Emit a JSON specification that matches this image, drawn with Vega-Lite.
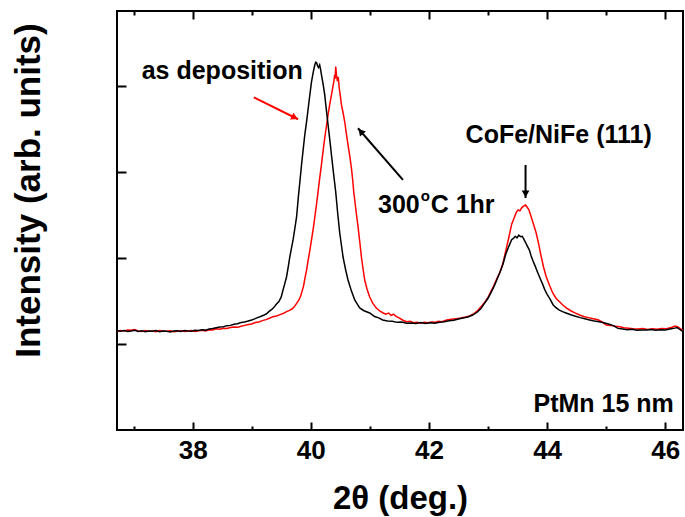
{
"$schema": "https://vega.github.io/schema/vega-lite/v6.json",
"width": 566, "height": 419,
"autosize": {"type": "none"},
"padding": {"left": 117, "top": 11, "right": 2, "bottom": 87},
"background": "white",
"config": {
  "view": {"stroke": "black", "strokeWidth": 2},
  "axis": {"grid": false, "domainColor": "black", "domainWidth": 2, "tickColor": "black", "tickWidth": 2, "ticks": true, "zindex": 1,
           "labelFont": "Liberation Sans", "labelFontWeight": "bold", "labelFontSize": 26, "labelColor": "black",
           "titleFont": "Liberation Sans", "titleFontWeight": "bold", "titleColor": "black"}
},
"datasets": {
  "red": [
{"x":36.72,"y":1.148},{"x":36.78,"y":1.156},{"x":36.84,"y":1.150},{"x":36.90,"y":1.162},{"x":36.96,"y":1.158},{"x":37.02,"y":1.168},{"x":37.08,"y":1.150},{"x":37.14,"y":1.145},{"x":37.20,"y":1.155},{"x":37.26,"y":1.148},{"x":37.32,"y":1.150},{"x":37.38,"y":1.142},{"x":37.44,"y":1.155},{"x":37.50,"y":1.150},{"x":37.56,"y":1.146},{"x":37.62,"y":1.152},{"x":37.68,"y":1.140},{"x":37.74,"y":1.148},{"x":37.80,"y":1.152},{"x":37.86,"y":1.145},{"x":37.92,"y":1.150},{"x":37.98,"y":1.155},{"x":38.04,"y":1.145},{"x":38.10,"y":1.152},{"x":38.16,"y":1.158},{"x":38.22,"y":1.150},{"x":38.28,"y":1.165},{"x":38.34,"y":1.162},{"x":38.40,"y":1.175},{"x":38.46,"y":1.170},{"x":38.52,"y":1.182},{"x":38.58,"y":1.178},{"x":38.64,"y":1.190},{"x":38.70,"y":1.195},{"x":38.76,"y":1.192},{"x":38.82,"y":1.205},{"x":38.88,"y":1.215},{"x":38.94,"y":1.225},{"x":39.00,"y":1.232},{"x":39.06,"y":1.248},{"x":39.12,"y":1.255},{"x":39.18,"y":1.270},{"x":39.24,"y":1.282},{"x":39.30,"y":1.298},{"x":39.36,"y":1.316},{"x":39.42,"y":1.325},{"x":39.48,"y":1.340},{"x":39.54,"y":1.355},{"x":39.59,"y":1.374},{"x":39.64,"y":1.39},{"x":39.68,"y":1.405},{"x":39.72,"y":1.43},{"x":39.76,"y":1.47},{"x":39.80,"y":1.51},{"x":39.83,"y":1.56},{"x":39.86,"y":1.63},{"x":39.88,"y":1.68},{"x":39.90,"y":1.76},{"x":39.93,"y":1.86},{"x":39.95,"y":1.95},{"x":39.98,"y":2.07},{"x":40.01,"y":2.20},{"x":40.04,"y":2.33},{"x":40.07,"y":2.48},{"x":40.095,"y":2.61},{"x":40.12,"y":2.75},{"x":40.15,"y":2.92},{"x":40.18,"y":3.078},{"x":40.21,"y":3.25},{"x":40.236,"y":3.391},{"x":40.265,"y":3.53},{"x":40.292,"y":3.659},{"x":40.32,"y":3.78},{"x":40.35,"y":3.891},{"x":40.37,"y":3.97},{"x":40.389,"y":4.042},{"x":40.40,"y":4.10},{"x":40.412,"y":4.08},{"x":40.422,"y":4.22},{"x":40.435,"y":4.12},{"x":40.45,"y":4.05},{"x":40.465,"y":4.10},{"x":40.48,"y":3.98},{"x":40.50,"y":3.88},{"x":40.519,"y":3.775},{"x":40.545,"y":3.69},{"x":40.575,"y":3.577},{"x":40.60,"y":3.45},{"x":40.63,"y":3.31},{"x":40.66,"y":3.18},{"x":40.688,"y":3.043},{"x":40.71,"y":2.90},{"x":40.727,"y":2.764},{"x":40.744,"y":2.671},{"x":40.77,"y":2.52},{"x":40.80,"y":2.358},{"x":40.83,"y":2.18},{"x":40.857,"y":2.009},{"x":40.885,"y":1.87},{"x":40.913,"y":1.742},{"x":40.95,"y":1.64},{"x":40.997,"y":1.545},{"x":41.05,"y":1.47},{"x":41.11,"y":1.417},{"x":41.16,"y":1.385},{"x":41.217,"y":1.362},{"x":41.27,"y":1.345},{"x":41.32,"y":1.358},{"x":41.36,"y":1.330},{"x":41.40,"y":1.345},{"x":41.44,"y":1.322},{"x":41.50,"y":1.300},{"x":41.56,"y":1.275},{"x":41.62,"y":1.258},{"x":41.68,"y":1.262},{"x":41.74,"y":1.245},{"x":41.80,"y":1.250},{"x":41.86,"y":1.240},{"x":41.92,"y":1.250},{"x":41.98,"y":1.245},{"x":42.04,"y":1.255},{"x":42.10,"y":1.250},{"x":42.16,"y":1.262},{"x":42.22,"y":1.258},{"x":42.30,"y":1.278},{"x":42.38,"y":1.285},{"x":42.46,"y":1.292},{"x":42.54,"y":1.300},{"x":42.62,"y":1.312},{"x":42.69,"y":1.324},{"x":42.76,"y":1.352},{"x":42.82,"y":1.385},{"x":42.88,"y":1.43},{"x":42.94,"y":1.48},{"x":43.00,"y":1.54},{"x":43.05,"y":1.61},{"x":43.10,"y":1.68},{"x":43.15,"y":1.76},{"x":43.20,"y":1.83},{"x":43.25,"y":1.93},{"x":43.30,"y":2.08},{"x":43.35,"y":2.23},{"x":43.40,"y":2.39},{"x":43.44,"y":2.46},{"x":43.48,"y":2.53},{"x":43.51,"y":2.555},{"x":43.54,"y":2.545},{"x":43.57,"y":2.58},{"x":43.60,"y":2.60},{"x":43.637,"y":2.613},{"x":43.66,"y":2.59},{"x":43.69,"y":2.56},{"x":43.73,"y":2.477},{"x":43.77,"y":2.39},{"x":43.815,"y":2.288},{"x":43.86,"y":2.15},{"x":43.90,"y":2.013},{"x":43.94,"y":1.89},{"x":43.985,"y":1.78},{"x":44.04,"y":1.68},{"x":44.096,"y":1.591},{"x":44.15,"y":1.53},{"x":44.21,"y":1.49},{"x":44.265,"y":1.452},{"x":44.33,"y":1.415},{"x":44.40,"y":1.385},{"x":44.47,"y":1.36},{"x":44.55,"y":1.336},{"x":44.62,"y":1.318},{"x":44.70,"y":1.305},{"x":44.78,"y":1.292},{"x":44.86,"y":1.280},{"x":44.93,"y":1.255},{"x":45.00,"y":1.22},{"x":45.08,"y":1.215},{"x":45.16,"y":1.205},{"x":45.23,"y":1.200},{"x":45.30,"y":1.188},{"x":45.38,"y":1.182},{"x":45.46,"y":1.176},{"x":45.54,"y":1.172},{"x":45.62,"y":1.178},{"x":45.70,"y":1.168},{"x":45.78,"y":1.175},{"x":45.86,"y":1.170},{"x":45.94,"y":1.178},{"x":46.02,"y":1.175},{"x":46.10,"y":1.190},{"x":46.17,"y":1.208},{"x":46.22,"y":1.195},{"x":46.26,"y":1.175},{"x":46.30,"y":1.160}
  ],
  "black": [
{"x":36.72,"y":1.152},{"x":36.78,"y":1.146},{"x":36.84,"y":1.155},{"x":36.90,"y":1.143},{"x":36.96,"y":1.150},{"x":37.02,"y":1.158},{"x":37.08,"y":1.145},{"x":37.14,"y":1.152},{"x":37.20,"y":1.140},{"x":37.26,"y":1.150},{"x":37.32,"y":1.146},{"x":37.38,"y":1.155},{"x":37.44,"y":1.142},{"x":37.50,"y":1.150},{"x":37.56,"y":1.147},{"x":37.62,"y":1.138},{"x":37.68,"y":1.150},{"x":37.74,"y":1.153},{"x":37.80,"y":1.145},{"x":37.86,"y":1.156},{"x":37.92,"y":1.150},{"x":37.98,"y":1.148},{"x":38.04,"y":1.158},{"x":38.10,"y":1.155},{"x":38.16,"y":1.165},{"x":38.22,"y":1.160},{"x":38.28,"y":1.172},{"x":38.34,"y":1.178},{"x":38.40,"y":1.188},{"x":38.46,"y":1.195},{"x":38.52,"y":1.200},{"x":38.58,"y":1.212},{"x":38.64,"y":1.215},{"x":38.70,"y":1.228},{"x":38.76,"y":1.235},{"x":38.82,"y":1.248},{"x":38.88,"y":1.255},{"x":38.94,"y":1.265},{"x":39.00,"y":1.278},{"x":39.05,"y":1.290},{"x":39.10,"y":1.305},{"x":39.15,"y":1.318},{"x":39.20,"y":1.332},{"x":39.25,"y":1.350},{"x":39.30,"y":1.38},{"x":39.34,"y":1.40},{"x":39.38,"y":1.428},{"x":39.42,"y":1.462},{"x":39.46,"y":1.492},{"x":39.50,"y":1.545},{"x":39.53,"y":1.626},{"x":39.56,"y":1.70},{"x":39.59,"y":1.78},{"x":39.62,"y":1.90},{"x":39.645,"y":2.01},{"x":39.67,"y":2.10},{"x":39.70,"y":2.207},{"x":39.73,"y":2.34},{"x":39.76,"y":2.477},{"x":39.79,"y":2.71},{"x":39.815,"y":2.88},{"x":39.843,"y":3.078},{"x":39.87,"y":3.25},{"x":39.898,"y":3.426},{"x":39.925,"y":3.56},{"x":39.949,"y":3.693},{"x":39.98,"y":3.87},{"x":40.012,"y":4.042},{"x":40.04,"y":4.15},{"x":40.067,"y":4.239},{"x":40.085,"y":4.27},{"x":40.10,"y":4.262},{"x":40.115,"y":4.23},{"x":40.13,"y":4.21},{"x":40.15,"y":4.24},{"x":40.165,"y":4.19},{"x":40.181,"y":4.123},{"x":40.21,"y":4.01},{"x":40.236,"y":3.891},{"x":40.26,"y":3.74},{"x":40.287,"y":3.577},{"x":40.32,"y":3.38},{"x":40.35,"y":3.194},{"x":40.385,"y":2.98},{"x":40.422,"y":2.764},{"x":40.455,"y":2.52},{"x":40.49,"y":2.288},{"x":40.52,"y":2.14},{"x":40.546,"y":2.009},{"x":40.59,"y":1.86},{"x":40.63,"y":1.742},{"x":40.69,"y":1.61},{"x":40.744,"y":1.51},{"x":40.79,"y":1.46},{"x":40.828,"y":1.417},{"x":40.90,"y":1.385},{"x":40.997,"y":1.359},{"x":41.08,"y":1.318},{"x":41.15,"y":1.302},{"x":41.217,"y":1.278},{"x":41.30,"y":1.265},{"x":41.38,"y":1.262},{"x":41.46,"y":1.250},{"x":41.54,"y":1.255},{"x":41.62,"y":1.240},{"x":41.70,"y":1.243},{"x":41.78,"y":1.236},{"x":41.86,"y":1.248},{"x":41.94,"y":1.238},{"x":42.02,"y":1.246},{"x":42.10,"y":1.240},{"x":42.18,"y":1.252},{"x":42.26,"y":1.256},{"x":42.34,"y":1.268},{"x":42.42,"y":1.275},{"x":42.50,"y":1.289},{"x":42.58,"y":1.300},{"x":42.66,"y":1.312},{"x":42.74,"y":1.335},{"x":42.82,"y":1.37},{"x":42.88,"y":1.41},{"x":42.94,"y":1.47},{"x":43.00,"y":1.53},{"x":43.05,"y":1.595},{"x":43.10,"y":1.665},{"x":43.15,"y":1.745},{"x":43.20,"y":1.83},{"x":43.25,"y":1.92},{"x":43.30,"y":2.04},{"x":43.35,"y":2.13},{"x":43.40,"y":2.21},{"x":43.43,"y":2.225},{"x":43.46,"y":2.25},{"x":43.49,"y":2.232},{"x":43.52,"y":2.262},{"x":43.55,"y":2.245},{"x":43.58,"y":2.25},{"x":43.61,"y":2.21},{"x":43.64,"y":2.17},{"x":43.67,"y":2.129},{"x":43.70,"y":2.09},{"x":43.73,"y":2.02},{"x":43.76,"y":1.965},{"x":43.80,"y":1.90},{"x":43.84,"y":1.83},{"x":43.87,"y":1.78},{"x":43.92,"y":1.70},{"x":43.96,"y":1.63},{"x":44.00,"y":1.575},{"x":44.05,"y":1.52},{"x":44.10,"y":1.455},{"x":44.15,"y":1.42},{"x":44.20,"y":1.395},{"x":44.26,"y":1.375},{"x":44.32,"y":1.359},{"x":44.40,"y":1.338},{"x":44.48,"y":1.322},{"x":44.56,"y":1.305},{"x":44.64,"y":1.292},{"x":44.72,"y":1.278},{"x":44.80,"y":1.265},{"x":44.88,"y":1.258},{"x":44.96,"y":1.245},{"x":45.04,"y":1.232},{"x":45.12,"y":1.212},{"x":45.20,"y":1.180},{"x":45.28,"y":1.172},{"x":45.36,"y":1.165},{"x":45.44,"y":1.170},{"x":45.52,"y":1.158},{"x":45.60,"y":1.162},{"x":45.68,"y":1.160},{"x":45.76,"y":1.166},{"x":45.84,"y":1.158},{"x":45.92,"y":1.165},{"x":46.00,"y":1.162},{"x":46.08,"y":1.172},{"x":46.16,"y":1.183},{"x":46.20,"y":1.190},{"x":46.24,"y":1.170},{"x":46.30,"y":1.142}
  ],
  "labels": [
    {"x": 37.138, "y": 4.077, "text": "as deposition"},
    {"x": 41.138, "y": 2.520, "text": "300"},
    {"x": 42.029, "y": 2.520, "text": "C 1hr"},
    {"x": 42.620, "y": 3.333, "text": "CoFe/NiFe (111)"},
    {"x": 43.770, "y": 0.209, "text": "PtMn 15 nm"}
  ],
  "sup": [{"x": 41.860, "y": 2.660, "text": "o"}],
  "redArrow": [{"x": 39.036, "y": 3.864, "x2": 39.785, "y2": 3.609}],
  "redHead": [{"x": 39.729, "y": 3.628}],
  "blackArrows": [
    {"x": 41.560, "y": 2.904, "x2": 40.799, "y2": 3.504},
    {"x": 43.635, "y": 3.078, "x2": 43.635, "y2": 2.694}
  ],
  "diagHead": [{"x": 40.845, "y": 3.467}],
  "vertHead": [{"x": 43.635, "y": 2.741}]
},
"resolve": {"axis": {"x": "independent", "y": "independent"}},
"layer": [
  {
    "data": {"name": "red"},
    "mark": {"type": "line", "color": "#ff0000", "strokeWidth": 1.5, "clip": true},
    "encoding": {
      "x": {"field": "x", "type": "quantitative", "scale": {"domain": [36.72, 46.3], "nice": false, "zero": false},
            "axis": {"orient": "bottom", "values": [38, 40, 42, 44, 46], "offset": -8, "tickSize": 8, "domain": false, "labelPadding": 7, "labelFlush": false,
                     "title": "2θ (deg.)", "titleFontSize": 33, "titleBaseline": "alphabetic", "titleY": 86}},
      "y": {"field": "y", "type": "quantitative", "scale": {"domain": [0, 4.866], "nice": false, "zero": false},
            "axis": {"orient": "left", "values": [1, 2, 3, 4], "offset": -9, "tickSize": 9, "domain": false, "labels": false,
                     "title": "Intensity (arb. units)", "titleFontSize": 35, "titleAngle": -90, "titleBaseline": "alphabetic",
                     "titleAlign": "center", "titleX": -87, "titleY": 179}}
    }
  },
  {
    "data": {"name": "black"},
    "mark": {"type": "line", "color": "#000000", "strokeWidth": 1.5, "clip": true},
    "encoding": {
      "x": {"field": "x", "type": "quantitative",
            "axis": {"orient": "top", "values": [38, 40, 42, 44, 46], "offset": -8, "tickSize": 8, "labels": false, "domain": false, "title": null}},
      "y": {"field": "y", "type": "quantitative", "axis": null}
    }
  },
  {
    "data": {"name": "labels"},
    "mark": {"type": "text", "font": "Liberation Sans", "fontWeight": "bold", "fontSize": 25, "align": "left", "baseline": "alphabetic", "color": "black"},
    "encoding": {
      "x": {"field": "x", "type": "quantitative",
            "axis": {"orient": "bottom", "values": [37, 39, 41, 43, 45], "offset": -4, "tickSize": 4, "labels": false, "domain": false, "title": null}},
      "y": {"field": "y", "type": "quantitative", "axis": null},
      "text": {"field": "text"}
    }
  },
  {
    "data": {"name": "sup"},
    "mark": {"type": "text", "font": "Liberation Sans", "fontWeight": "bold", "fontSize": 15, "align": "left", "baseline": "alphabetic", "color": "black"},
    "encoding": {
      "x": {"field": "x", "type": "quantitative",
            "axis": {"orient": "top", "values": [37, 39, 41, 43, 45], "offset": -4, "tickSize": 4, "labels": false, "domain": false, "title": null}},
      "y": {"field": "y", "type": "quantitative", "axis": null},
      "text": {"field": "text"}
    }
  },
  {
    "data": {"name": "redArrow"},
    "mark": {"type": "rule", "color": "#ff0000", "strokeWidth": 2},
    "encoding": {
      "x": {"field": "x", "type": "quantitative", "axis": null},
      "y": {"field": "y", "type": "quantitative", "axis": null},
      "x2": {"field": "x2"}, "y2": {"field": "y2"}
    }
  },
  {
    "data": {"name": "blackArrows"},
    "mark": {"type": "rule", "color": "#000000", "strokeWidth": 2},
    "encoding": {
      "x": {"field": "x", "type": "quantitative", "axis": null},
      "y": {"field": "y", "type": "quantitative", "axis": null},
      "x2": {"field": "x2"}, "y2": {"field": "y2"}
    }
  },
  {
    "data": {"name": "redHead"},
    "mark": {"type": "point", "shape": "triangle-right", "filled": true, "color": "#ff0000", "size": 60, "angle": 26.4, "opacity": 1},
    "encoding": {
      "x": {"field": "x", "type": "quantitative", "axis": null},
      "y": {"field": "y", "type": "quantitative", "axis": null}
    }
  },
  {
    "data": {"name": "diagHead"},
    "mark": {"type": "point", "shape": "triangle-right", "filled": true, "color": "#000000", "size": 60, "angle": 229.1, "opacity": 1},
    "encoding": {
      "x": {"field": "x", "type": "quantitative", "axis": null},
      "y": {"field": "y", "type": "quantitative", "axis": null}
    }
  },
  {
    "data": {"name": "vertHead"},
    "mark": {"type": "point", "shape": "triangle-right", "filled": true, "color": "#000000", "size": 60, "angle": 90, "opacity": 1},
    "encoding": {
      "x": {"field": "x", "type": "quantitative", "axis": null},
      "y": {"field": "y", "type": "quantitative", "axis": null}
    }
  }
]
}
